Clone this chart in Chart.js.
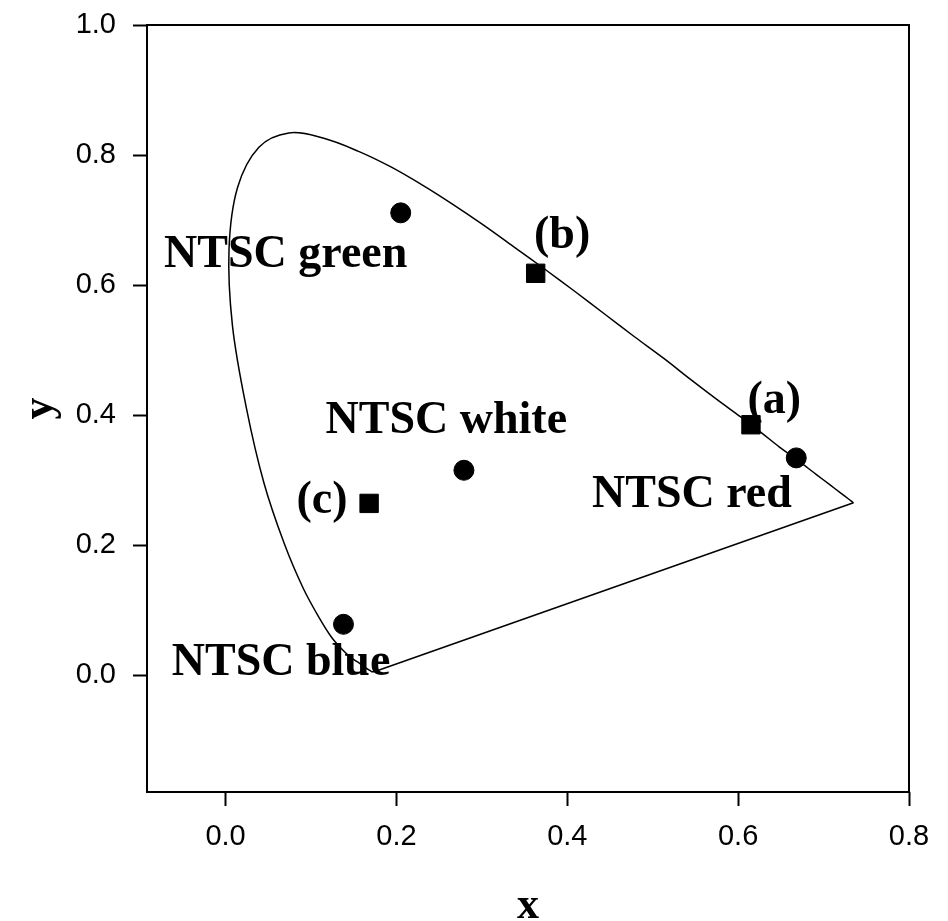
<!DOCTYPE html>
<html>
<head>
<meta charset="utf-8">
<script src="https://cdn.jsdelivr.net/npm/chart.js@4/dist/chart.umd.min.js"></script>
<style>
  body { margin: 0; background: #fff; }
  #wrap { width: 948px; height: 921px; }
</style>
</head>
<body>
<div id="wrap"><canvas id="cie"></canvas></div>
<script>
// spectral locus (x, y)
const locusX = [0.174, 0.173, 0.171, 0.169, 0.164, 0.157, 0.151, 0.144, 0.136, 0.124, 0.110, 0.091, 0.069, 0.045, 0.024, 0.008, 0.004, 0.014, 0.039, 0.074, 0.114, 0.155, 0.193, 0.230, 0.266, 0.302, 0.337, 0.373, 0.409, 0.444, 0.479, 0.513, 0.545, 0.575, 0.603, 0.627, 0.648, 0.666, 0.692, 0.708, 0.719, 0.730, 0.735];
const locusY = [0.005, 0.005, 0.005, 0.007, 0.011, 0.018, 0.023, 0.030, 0.040, 0.058, 0.087, 0.133, 0.201, 0.295, 0.413, 0.538, 0.655, 0.750, 0.812, 0.834, 0.826, 0.806, 0.782, 0.754, 0.724, 0.692, 0.659, 0.625, 0.590, 0.555, 0.520, 0.487, 0.454, 0.424, 0.397, 0.373, 0.351, 0.334, 0.308, 0.292, 0.281, 0.270, 0.265];

// NTSC primaries + white (circles)
const ntscX = [0.205, 0.668, 0.138, 0.279];
const ntscY = [0.711, 0.334, 0.078, 0.315];

// samples (a), (b), (c) (squares)
const sampleX = [0.615, 0.363, 0.168];
const sampleY = [0.385, 0.618, 0.264];

const xTicks = [0.0, 0.2, 0.4, 0.6, 0.8];
const yTicks = [0.0, 0.2, 0.4, 0.6, 0.8, 1.0];

// text labels: text, left x, baseline y (data units)
const noteText = ['NTSC green', 'NTSC white', 'NTSC red', 'NTSC blue', '(a)', '(b)', '(c)'];
const noteX = [-0.072, 0.117, 0.429, -0.063, 0.611, 0.361, 0.083];
const noteY = [0.628, 0.372, 0.258, 0.0, 0.403, 0.657, 0.249];

const pts = (xs, ys) => xs.map((x, i) => ({ x: x, y: ys[i] }));
const last = locusX.length - 1;

const framePlugin = {
  id: 'frame',
  afterDatasetsDraw(chart) {
    const { ctx, chartArea: a, scales } = chart;
    ctx.save();
    ctx.strokeStyle = '#000';
    ctx.lineWidth = 2;
    ctx.strokeRect(a.left, a.top, a.right - a.left, a.bottom - a.top);
    ctx.font = 'bold 46px "Liberation Serif"';
    ctx.fillStyle = '#000';
    ctx.textAlign = 'left';
    ctx.textBaseline = 'alphabetic';
    noteText.forEach((t, i) => {
      ctx.fillText(t, scales.x.getPixelForValue(noteX[i]), scales.y.getPixelForValue(noteY[i]));
    });
    ctx.restore();
  }
};

new Chart(document.getElementById('cie'), {
  type: 'scatter',
  data: {
    datasets: [
      {
        data: pts(locusX, locusY),
        showLine: true,
        borderColor: '#000',
        borderWidth: 1.5,
        pointRadius: 0,
        tension: 0.35
      },
      {
        data: [{ x: locusX[0], y: locusY[0] }, { x: locusX[last], y: locusY[last] }],
        showLine: true,
        borderColor: '#000',
        borderWidth: 1.5,
        pointRadius: 0
      },
      {
        data: pts(ntscX, ntscY),
        pointStyle: 'circle',
        pointRadius: 10,
        backgroundColor: '#000',
        borderColor: '#000',
        borderWidth: 1
      },
      {
        data: pts(sampleX, sampleY),
        pointStyle: 'rect',
        pointRadius: 13,
        backgroundColor: '#000',
        borderColor: '#000',
        borderWidth: 1
      }
    ]
  },
  options: {
    responsive: true,
    maintainAspectRatio: false,
    animation: false,
    layout: { padding: { left: 0, right: 39, top: 25, bottom: 0 } },
    plugins: { legend: { display: false }, tooltip: { enabled: false } },
    scales: {
      x: {
        min: -0.092,
        max: 0.8,
        afterBuildTicks: s => { s.ticks = xTicks.map(v => ({ value: v })); },
        afterFit: s => { s.height = 129; },
        border: { display: false },
        grid: { drawOnChartArea: false, drawTicks: true, tickLength: 14, tickWidth: 2, tickColor: '#000' },
        ticks: {
          color: '#000',
          padding: 14,
          maxRotation: 0,
          font: { family: '"Liberation Sans"', size: 29 },
          callback: v => Number(v).toFixed(1)
        },
        title: {
          display: true,
          text: 'x',
          color: '#000',
          padding: { top: 0, bottom: 6 },
          font: { family: '"Liberation Serif"', size: 44, weight: 'bold', lineHeight: 0.4 }
        }
      },
      y: {
        min: -0.18,
        max: 1.0,
        afterBuildTicks: s => { s.ticks = yTicks.map(v => ({ value: v })); },
        afterFit: s => { s.width = 147; s.paddingTop = 0; s.paddingBottom = 0; },
        border: { display: false },
        grid: { drawOnChartArea: false, drawTicks: true, tickLength: 14, tickWidth: 2, tickColor: '#000' },
        ticks: {
          color: '#000',
          padding: 17,
          font: { family: '"Liberation Sans"', size: 29 },
          callback: v => Number(v).toFixed(1)
        },
        title: {
          display: true,
          text: 'y',
          color: '#000',
          padding: { top: 14, bottom: 0 },
          font: { family: '"Liberation Serif"', size: 44, weight: 'bold' }
        }
      }
    }
  },
  plugins: [framePlugin]
});
</script>
</body>
</html>
